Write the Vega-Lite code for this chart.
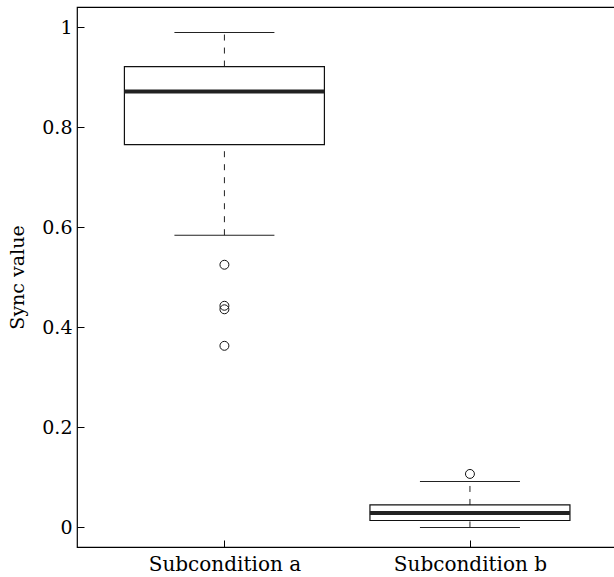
{
  "$schema": "https://vega.github.io/schema/vega-lite/v6.json",
  "autosize": "none",
  "padding": {"left": 77, "top": 7, "right": 0, "bottom": 30},
  "width": 560,
  "height": 540,
  "config": {
    "view": {"stroke": "black", "strokeWidth": 1.2},
    "font": "DejaVu Serif",
    "axis": {"grid": false, "domain": false, "labelFont": "DejaVu Serif", "titleFont": "DejaVu Serif", "labelColor": "black", "titleColor": "black", "tickColor": "black", "labelFontSize": 19, "titleFontSize": 19, "titleFontWeight": "normal", "tickSize": -7, "tickWidth": 1}
  },
  "datasets": {
    "boxes": [
      {"pos": 1, "lo": 0.584, "q1": 0.765, "med": 0.871, "q3": 0.921, "hi": 0.989},
      {"pos": 2, "lo": 0.0, "q1": 0.014, "med": 0.029, "q3": 0.045, "hi": 0.092}
    ],
    "outliers": [
      {"pos": 1, "value": 0.525},
      {"pos": 1, "value": 0.443},
      {"pos": 1, "value": 0.436},
      {"pos": 1, "value": 0.363},
      {"pos": 2, "value": 0.107}
    ]
  },
  "encoding": {
    "x": {"field": "pos", "type": "quantitative", "scale": {"domain": [0.42, 2.66], "nice": false, "zero": false},
      "axis": {"values": [1, 2], "title": null, "labelExpr": "datum.value == 1 ? 'Subcondition a' : 'Subcondition b'", "labelPadding": 14, "labelFontSize": 20}}
  },
  "layer": [
    {
      "data": {"name": "boxes"},
      "mark": {"type": "rule", "strokeDash": [6, 7], "color": "#222", "strokeWidth": 1},
      "encoding": {
        "y": {"field": "lo", "type": "quantitative", "scale": {"domain": [-0.039, 1.04], "nice": false, "zero": false},
          "axis": {"values": [0, 0.2, 0.4, 0.6, 0.8, 1], "format": "~g", "title": "Sync value", "labelPadding": 12, "titlePadding": 14}},
        "y2": {"field": "q1"}
      }
    },
    {
      "data": {"name": "boxes"},
      "mark": {"type": "rule", "strokeDash": [6, 7], "color": "#222", "strokeWidth": 1},
      "encoding": {"y": {"field": "q3", "type": "quantitative"}, "y2": {"field": "hi"}}
    },
    {
      "data": {"name": "boxes"},
      "mark": {"type": "tick", "orient": "horizontal", "size": 100, "thickness": 1, "color": "#222", "opacity": 1},
      "encoding": {"y": {"field": "lo", "type": "quantitative"}}
    },
    {
      "data": {"name": "boxes"},
      "mark": {"type": "tick", "orient": "horizontal", "size": 100, "thickness": 1, "color": "#222", "opacity": 1},
      "encoding": {"y": {"field": "hi", "type": "quantitative"}}
    },
    {
      "data": {"name": "boxes"},
      "mark": {"type": "bar", "size": 200, "fill": "white", "stroke": "#111", "strokeWidth": 1.2, "opacity": 1},
      "encoding": {"y": {"field": "q1", "type": "quantitative"}, "y2": {"field": "q3"}}
    },
    {
      "data": {"name": "boxes"},
      "mark": {"type": "tick", "orient": "horizontal", "size": 200, "thickness": 4, "color": "#222", "opacity": 1},
      "encoding": {"y": {"field": "med", "type": "quantitative"}}
    },
    {
      "data": {"name": "outliers"},
      "mark": {"type": "point", "shape": "circle", "filled": false, "size": 80, "color": "#111", "strokeWidth": 1, "opacity": 1},
      "encoding": {"y": {"field": "value", "type": "quantitative"}}
    }
  ]
}
